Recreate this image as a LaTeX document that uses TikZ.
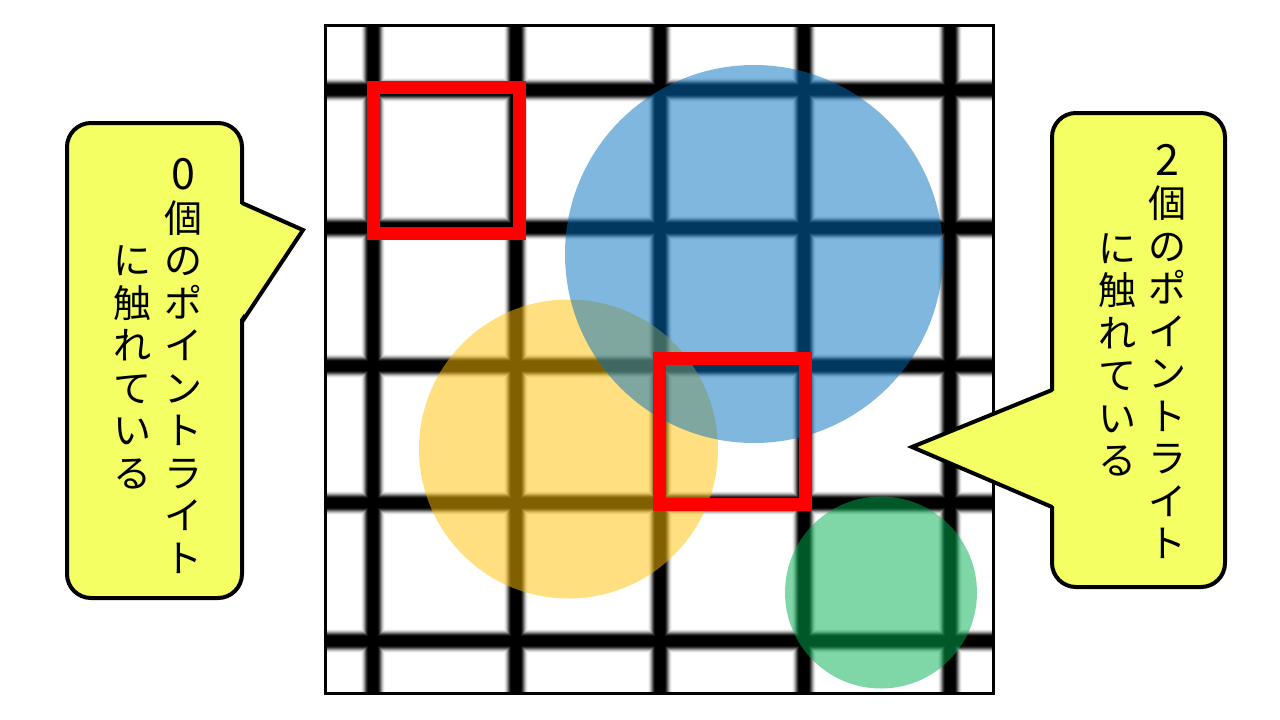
\documentclass[tikz,border=0pt]{standalone}
\usepackage{fontspec}
\newfontfamily\jp{Noto Sans CJK JP}
\definecolor{cblue}{RGB}{0,112,192}
\definecolor{cyellow}{RGB}{255,192,0}
\definecolor{cgreen}{RGB}{0,176,80}
\definecolor{calloutfill}{RGB}{243,255,99}
\tikzset{
  lightcircle/.style={fill opacity=0.5},
  redbox/.style={draw=red, line width=13pt, line join=miter},
  callout/.style={draw=black, fill=calloutfill, line width=4pt, rounded corners=24pt},
  pointerfill/.style={fill=calloutfill},
  pointerline/.style={draw=black, line width=4pt, line join=miter},
  coltext/.style={inner sep=0pt, align=center, font=\jp\fontsize{38}{42.5}\selectfont}
}
\newcommand{\bigdigit}[1]{{\fontsize{43}{42.5}\selectfont #1}}
\begin{document}
\begin{tikzpicture}[x=1pt,y=-1pt]
\fill[white] (0,0) rectangle (1280,720);
% blurred grid
\begin{scope}
\clip (325.5,25.5) rectangle (993.5,693.5);
\foreach \w/\c in {24/black!4, 22/black!12, 20/black!25, 18/black!42, 16/black!62, 14/black!80, 12/black!93, 10/black} {
  \foreach \x in {373,516,660,804,950} \draw[line width=\w pt, color=\c] (\x,20) -- (\x,700);
  \foreach \y in {90,228,366,503,641} \draw[line width=\w pt, color=\c] (320,\y) -- (1000,\y);
}
\end{scope}
% translucent circles
\fill[cyellow, lightcircle] (568.5,449) circle (149.5);
\fill[cblue, lightcircle] (754,254) circle (189);
\fill[cgreen, lightcircle] (881,592.5) circle (96);
% red squares
\draw[redbox] (373.5,87.5) rectangle (519.5,233.5);
\draw[redbox] (659.5,358.5) rectangle (805.5,504.5);
% frame
\draw[line width=3pt] (325.5,25.5) rectangle (993.5,693.5);
% left callout
\path[callout] (67,123) rectangle (242,598);
\fill[pointerfill] (238,203) -- (303,230) -- (238,322) -- cycle;
\draw[pointerline] (242,203) -- (303,230) -- (242,322);
\node[coltext] (l1) at (183,366) {\bigdigit{0}\\個\\の\\ポ\\イ\\ン\\ト\\ラ\\イ\\ト};
\node[coltext] (l2) at (132,367.5) {に\\触\\れ\\て\\い\\る};
% right callout
\path[callout] (1052,113) rectangle (1225,587);
\fill[pointerfill] (1056,390) -- (912,447) -- (1056,507) -- cycle;
\draw[pointerline] (1052,390) -- (912,447) -- (1052,507);
\node[coltext] (r1) at (1167,351.5) {\bigdigit{2}\\個\\の\\ポ\\イ\\ン\\ト\\ラ\\イ\\ト};
\node[coltext] (r2) at (1117,355) {に\\触\\れ\\て\\い\\る};
\end{tikzpicture}
\end{document}
